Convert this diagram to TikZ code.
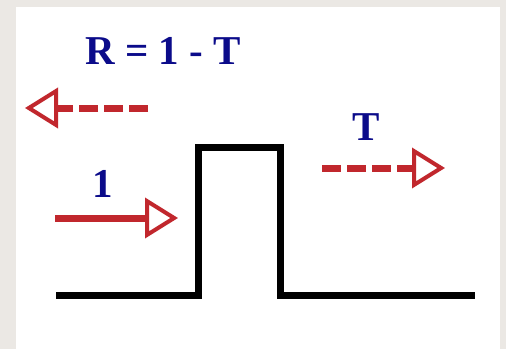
\documentclass[tikz,border=0pt]{standalone}
\usepackage{fontspec}
\setmainfont{Liberation Serif}
\usetikzlibrary{arrows.meta, positioning}
\definecolor{waveRed}{HTML}{C1272D}
\definecolor{labelBlue}{HTML}{0B0B8A}
\definecolor{frameGray}{HTML}{EBE8E4}

\begin{document}
\begin{tikzpicture}[
    x=1pt, y=1pt,
    barrier/.style={line width=7pt, black, line join=miter},
    wave/.style={line width=7pt, waveRed, -{Triangle[open, length=33pt, width=40pt, line width=4pt]}},
    partial/.style={wave, dash pattern=on 19pt off 6pt},
    lbl/.style={text=labelBlue, font=\fontsize{41}{41}\selectfont\bfseries, inner sep=0pt, anchor=base}
]
    % Frame
    \fill[frameGray] (0,0) rectangle (506,349);
    \fill[white] (16,0) rectangle (500,342);
    \useasboundingbox (0,0) rectangle (506,349);

    % Barrier
    \coordinate (left end) at (56,53.5);
    \coordinate (left foot) at (198.5,53.5);
    \coordinate (left top) at (198.5,202);
    \coordinate (right top) at (280,202);
    \coordinate (right foot) at (280,53.5);
    \coordinate (right end) at (475,53.5);
    \draw[barrier] (left end) -- (left foot) -- (left top) -- (right top) -- (right foot) -- (right end);

    % Waves
    \coordinate (in start) at (55,131);
    \coordinate (in tip) at (178,131);
    \coordinate (refl start) at (148,241);
    \coordinate (refl tip) at (25,241);
    \coordinate (trans start) at (322,181);
    \coordinate (trans tip) at (445,181);
    \draw[wave] (in start) -- (in tip);
    \draw[partial] (refl start) -- (refl tip);
    \draw[partial] (trans start) -- (trans tip);

    % Labels
    \node[lbl] (incident) at (103,152) {1};
    \node[lbl] (reflected) at (163,284) {R = 1 - T};
    \node[lbl] (transmitted) at (366,209) {T};
\end{tikzpicture}
\end{document}
